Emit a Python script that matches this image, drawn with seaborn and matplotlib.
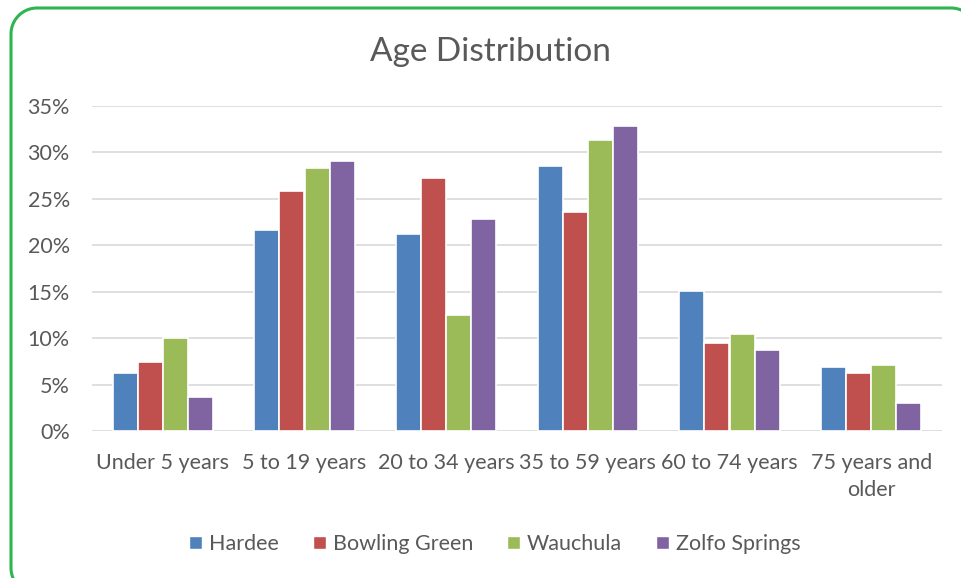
import numpy as np
import pandas as pd
import matplotlib
matplotlib.use('Agg')
import matplotlib.pyplot as plt
import seaborn as sns
from matplotlib.lines import Line2D
from matplotlib.patches import Patch
from matplotlib.ticker import PercentFormatter

categories = ["Under 5 years", "5 to 19 years", "20 to 34 years",
              "35 to 59 years", "60 to 74 years", "75 years and\nolder"]
series = ["Hardee", "Bowling Green", "Wauchula", "Zolfo Springs"]
hardee = [6.2, 21.7, 21.2, 28.5, 15.1, 6.9]
bowling_green = [7.4, 25.8, 27.2, 23.6, 9.5, 6.3]
wauchula = [10.0, 28.3, 12.5, 31.3, 10.4, 7.1]
zolfo_springs = [3.7, 29.1, 22.8, 32.8, 8.7, 3.0]
colors = ["#4F81BD", "#C0504D", "#9BBB59", "#8064A2"]

rows = []
for name, vals in zip(series, [hardee, bowling_green, wauchula, zolfo_springs]):
    for cat, v in zip(categories, vals):
        rows.append({"Age": cat, "Place": name, "Share": v})
df = pd.DataFrame(rows)

sns.set_style("white")
plt.rcParams['font.family'] = ['Lato', 'DejaVu Sans']
text_gray = "#595959"

W, H = 961, 578
fig = plt.figure(figsize=(W / 100, H / 100), dpi=100)


def arc(cx, cy, r, a0, a1):
    t = np.radians(np.linspace(a0, a1, 20))
    return cx + r * np.cos(t), cy + r * np.sin(t)


# open rounded frame (pixel units, origin bottom-left) -> figure fractions;
# the right and bottom sides lie outside the canvas, so only three corners show
left, right, top, bottom, r = 11, 977, H - 8, H - 594, 26
xs, ys = [], []
for cx, cy, a0, a1 in [(right - r, top - r, 30, 90), (left + r, top - r, 90, 180),
                       (left + r, bottom + r, 180, 270)]:
    px, py = arc(cx, cy, r, a0, a1)
    xs.extend(px)
    ys.extend(py)
fig.add_artist(Line2D(np.array(xs) / W, np.array(ys) / H, transform=fig.transFigure,
                      color="#2EB550", linewidth=2.2, solid_joinstyle="round"))

ax = fig.add_axes([92 / W, 1 - 431 / H, 850 / W, 325 / H])
sns.barplot(data=df, x="Age", y="Share", hue="Place", palette=colors,
            saturation=1, width=0.71, edgecolor="white", linewidth=1.2,
            ax=ax, legend=False)

ax.set_ylim(0, 35)
ax.set_yticks(range(0, 36, 5))
ax.yaxis.set_major_formatter(PercentFormatter(decimals=0))
ax.grid(axis="y", color="#D9D9D9", linewidth=1.2)
ax.set_axisbelow(True)
for s in ax.spines.values():
    s.set_visible(False)
ax.set_xlabel("")
ax.set_ylabel("")
ax.tick_params(axis="both", length=0, labelsize=15.5, colors=text_gray)
ax.tick_params(axis="x", pad=16)
ax.tick_params(axis="y", pad=16)
for lbl in ax.get_xticklabels():
    lbl.set_linespacing(1.45)

fig.text(0.51, 1 - 52 / H, "Age Distribution", ha="center", va="center",
         fontsize=24, color=text_gray)

handles = [Patch(facecolor=c, label=n) for c, n in zip(colors, series)]
fig.legend(handles=handles, loc="center", bbox_to_anchor=(0.515, 1 - 544 / H),
           ncol=4, frameon=False, fontsize=15.5, labelcolor=text_gray,
           handlelength=0.6, handleheight=0.6, handletextpad=0.3, columnspacing=1.6)

fig.savefig("out.png", dpi=100)
plt.close(fig)
